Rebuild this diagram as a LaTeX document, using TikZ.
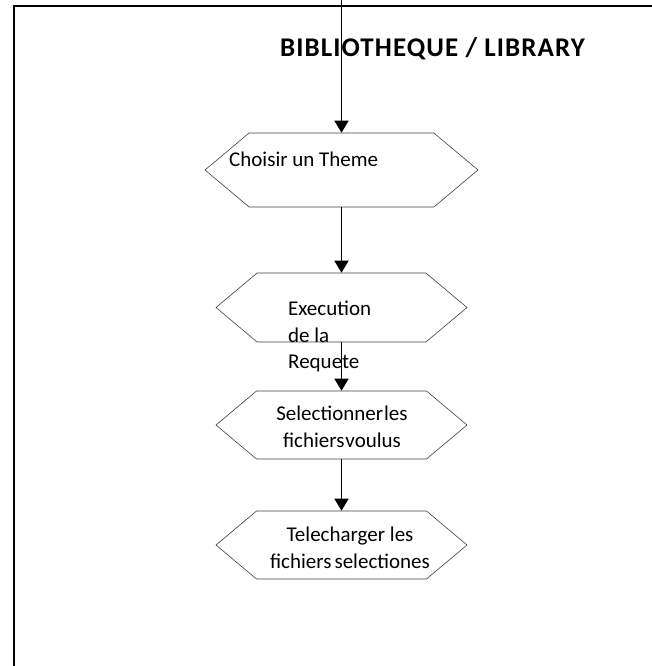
\documentclass[tikz,border=0pt]{standalone}
\usepackage{fontspec}
\setmainfont{Carlito}
\usetikzlibrary{arrows.meta,shapes.symbols}

\begin{document}
\begin{tikzpicture}[x=1pt, y=-1pt,
    hexa/.style={draw=black!75, line width=0.6pt, shape=signal, signal to=west and east,
      signal pointer angle=80, inner sep=0pt, minimum height=#1},
    flow/.style={line width=1.5pt, -{Triangle[width=14pt,length=12pt]}},
    txt/.style={font=\fontsize{21}{26.5}\selectfont, inner sep=0pt}]
    \useasboundingbox (0,0) rectangle (652,666);

    % frame
    \draw[line width=1.8pt] (14,666) -- (14,6) -- (652,6);
    \node[font=\bfseries\fontsize{27}{32}\selectfont\addfontfeature{LetterSpace=4}, inner sep=0pt, anchor=base west] (title) at (280,57) {BIBLIOTHEQUE / LIBRARY};

    \coordinate (entry) at (341.5,0);
    \node[hexa=74pt, minimum width=273pt] (theme) at (341.5,170) {};
    \node[hexa=69pt, minimum width=251pt] (exec) at (341.5,307.5) {};
    \node[hexa=68pt, minimum width=251pt] (select) at (341.5,425) {};
    \node[hexa=68pt, minimum width=251pt] (dl) at (341.5,545) {};

    \node[txt, anchor=base west] (themetxt) at (229,166) {Choisir un Theme};
    \node[txt, anchor=north west, align=left] (exectxt) at (288,301) {Execution\\de la\\Requete};
    \node[txt, anchor=north, align=center] (selecttxt) at (342,406) {{\spaceskip=1pt Selectionner les}\\{\spaceskip=1pt fichiers voulus}};
    \node[txt, anchor=north, align=center] (dltxt) at (350,527) {Telecharger les\\{\spaceskip=3pt fichiers selectiones}};

    \draw[flow] (entry) -- (theme.north);
    \draw[flow] (theme.south) -- (exec.north);
    \draw[flow] (exec.south) -- (select.north);
    \draw[flow] (select.south) -- (dl.north);
\end{tikzpicture}
\end{document}
